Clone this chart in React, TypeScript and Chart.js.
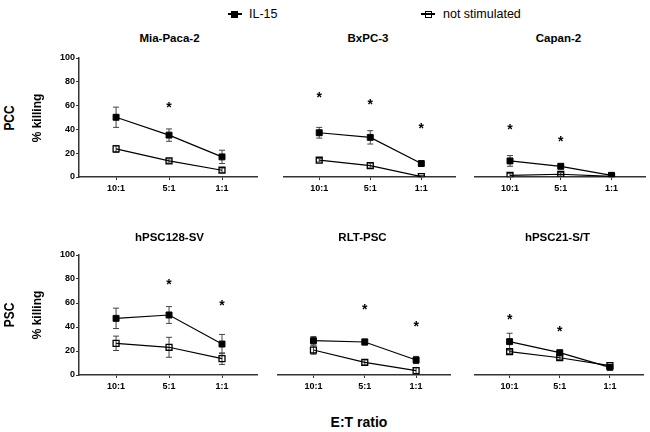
import React, { useEffect, useRef } from "react";
import { Chart, registerables } from "chart.js";

Chart.register(...registerables);

const FONT = '"Liberation Sans", Arial, Helvetica, sans-serif';

// ---- data ----
const ratioLabels = ["10:1", "5:1", "1:1"];
const ratioPositions = [1, 2, 3];
const yTickStep = 20;
const seriesNames = ["IL-15", "not stimulated"];
const panelTitles = ["Mia-Paca-2", "BxPC-3", "Capan-2", "hPSC128-SV", "RLT-PSC", "hPSC21-S/T"];
const rowLabels = ["PCC", "PSC"];
const yAxisTitle = "% killing";
const xAxisTitle = "E:T ratio";

const il15Mean = [
  [50.2, 35.2, 16.9],
  [37.2, 33.3, 11.3],
  [13.5, 9.0, 1.4],
  [47.2, 50.0, 25.8],
  [28.6, 27.5, 12.5],
  [27.8, 18.6, 6.4],
];
const il15Err = [
  [8.5, 5.2, 5.6],
  [4.5, 5.6, 1.5],
  [4.5, 1.5, 1.0],
  [8.5, 7.0, 8.0],
  [3.5, 2.5, 3.0],
  [7.0, 1.5, 1.0],
];
const unstimMean = [
  [23.6, 13.5, 5.7],
  [14.1, 9.6, 0.3],
  [1.4, 2.3, 0.5],
  [26.4, 23.1, 13.6],
  [20.8, 10.5, 3.6],
  [19.4, 14.4, 7.8],
];
const unstimErr = [
  [2.9, 1.8, 1.8],
  [1.5, 2.0, 1.0],
  [1.5, 1.5, 0.8],
  [6.0, 8.3, 4.8],
  [3.5, 2.0, 2.5],
  [1.5, 1.5, 1.0],
];
// y position (in % killing units) of significance asterisks, null = none
const starLevels = [
  [null, 60.6, null],
  [69.0, 63.3, 42.8],
  [41.7, 31.6, null],
  [null, 77.3, 60.3],
  [null, 56.4, 42.3],
  [48.6, 38.6, null],
];

// ---- layout ----
const panelBoxes = [
  { left: 79, width: 181, top: 58, height: 119, showY: true },
  { left: 278, width: 180, top: 58, height: 119, showY: false },
  { left: 469, width: 179, top: 58, height: 119, showY: false },
  { left: 79, width: 181, top: 255, height: 120, showY: true },
  { left: 272, width: 181, top: 255, height: 120, showY: false },
  { left: 469, width: 177, top: 255, height: 120, showY: false },
];
const Y_AXIS_W = 40;
const PAD_TOP = 12;
const PAD_RIGHT = 3;
const X_AXIS_H = 24;

function Panel({ index }: { index: number }) {
  const ref = useRef<HTMLCanvasElement | null>(null);
  const box = panelBoxes[index];
  const yw = box.showY ? Y_AXIS_W : 0;
  const cw = yw + box.width + PAD_RIGHT;
  const ch = PAD_TOP + box.height + X_AXIS_H;

  useEffect(() => {
    const canvas = ref.current;
    if (!canvas) return;
    const means = [il15Mean[index], unstimMean[index]];
    const errs = [il15Err[index], unstimErr[index]];
    const stars = starLevels[index];

    const errorBarPlugin = {
      id: "errorBars",
      beforeDatasetsDraw(chart: any) {
        const ctx = chart.ctx;
        const ys = chart.scales.y;
        ctx.save();
        ctx.strokeStyle = "#444";
        ctx.lineWidth = 1;
        means.forEach((m, di) => {
          const meta = chart.getDatasetMeta(di);
          meta.data.forEach((pt: any, j: number) => {
            const e = errs[di][j];
            const yt = ys.getPixelForValue(m[j] + e);
            const yb = ys.getPixelForValue(Math.max(0, m[j] - e));
            ctx.beginPath();
            ctx.moveTo(pt.x, yt);
            ctx.lineTo(pt.x, yb);
            ctx.moveTo(pt.x - 3, yt);
            ctx.lineTo(pt.x + 3, yt);
            ctx.moveTo(pt.x - 3, yb);
            ctx.lineTo(pt.x + 3, yb);
            ctx.stroke();
          });
        });
        ctx.restore();
      },
    };

    const starPlugin = {
      id: "stars",
      afterDraw(chart: any) {
        const ctx = chart.ctx;
        const xs = chart.scales.x;
        const ys = chart.scales.y;
        ctx.save();
        ctx.font = `bold 14px ${FONT}`;
        ctx.fillStyle = "#000";
        ctx.textAlign = "center";
        ctx.textBaseline = "alphabetic";
        const m = ctx.measureText("*");
        const asc = m.actualBoundingBoxAscent || 9;
        const desc = m.actualBoundingBoxDescent || -5;
        stars.forEach((s, j) => {
          if (s === null) return;
          const x = xs.getPixelForValue(ratioPositions[j]);
          const yc = ys.getPixelForValue(s);
          ctx.fillText("*", x, yc + (asc - desc) / 2);
        });
        ctx.restore();
      },
    };

    const tickFont = { family: FONT, size: 9, weight: "bold" as const };

    const chart = new Chart(canvas, {
      type: "line",
      data: {
        datasets: [
          {
            label: seriesNames[0],
            data: means[0].map((v, i) => ({ x: ratioPositions[i], y: v })),
            borderColor: "#000",
            backgroundColor: "#000",
            borderWidth: 1.2,
            pointStyle: "rect",
            pointRadius: 4.2,
            pointBorderWidth: 1,
            pointBackgroundColor: "#000",
            pointBorderColor: "#000",
          },
          {
            label: seriesNames[1],
            data: means[1].map((v, i) => ({ x: ratioPositions[i], y: v })),
            borderColor: "#000",
            backgroundColor: "rgba(0,0,0,0)",
            borderWidth: 1.2,
            pointStyle: "rect",
            pointRadius: 4.2,
            pointBorderWidth: 1.3,
            pointBackgroundColor: "rgba(0,0,0,0)",
            pointBorderColor: "#000",
          },
        ],
      },
      options: {
        responsive: false,
        maintainAspectRatio: false,
        animation: false,
        events: [],
        layout: { padding: { left: 0, right: PAD_RIGHT, top: PAD_TOP, bottom: 0 } },
        plugins: {
          legend: { display: false },
          tooltip: { enabled: false },
          title: { display: false },
        },
        scales: {
          x: {
            type: "linear",
            min: 0.3,
            max: 3.67,
            afterBuildTicks: (s: any) => {
              s.ticks = ratioPositions.map((v) => ({ value: v }));
            },
            afterFit: (s: any) => {
              s.height = X_AXIS_H;
            },
            ticks: {
              callback: (v: any) => ratioLabels[ratioPositions.indexOf(Number(v))],
              font: tickFont,
              color: "#000",
              padding: 3,
              autoSkip: false,
              maxRotation: 0,
            },
            grid: { display: true, drawOnChartArea: false, drawTicks: true, tickLength: 3, color: "#333", lineWidth: 1 },
            border: { display: true, color: "#333", width: 1.5 },
          },
          y: {
            display: box.showY,
            min: 0,
            max: 100,
            afterFit: (s: any) => {
              s.width = yw;
            },
            ticks: { stepSize: yTickStep, font: tickFont, color: "#000", padding: 1 },
            grid: { display: true, drawOnChartArea: false, drawTicks: true, tickLength: 3, color: "#333", lineWidth: 1 },
            border: { display: true, color: "#333", width: 1.5 },
          },
        },
      } as any,
      plugins: [errorBarPlugin, starPlugin],
    });
    return () => chart.destroy();
  }, [index]);

  return (
    <canvas
      ref={ref}
      width={cw}
      height={ch}
      style={{
        position: "absolute",
        left: box.left - yw,
        top: box.top - PAD_TOP,
        width: cw,
        height: ch,
      }}
    />
  );
}

const textBase: React.CSSProperties = {
  position: "absolute",
  fontFamily: FONT,
  color: "#000",
  whiteSpace: "nowrap",
  lineHeight: 1,
};

function Centered({ x, y, text, size, bold, rotate, scale }: { x: number; y: number; text: string; size: number; bold?: boolean; rotate?: boolean; scale?: number }) {
  const tf = `translate(-50%, -50%)${rotate ? " rotate(-90deg)" : ""}${scale ? ` scaleX(${scale})` : ""}`;
  return (
    <div style={{ ...textBase, left: x, top: y, fontSize: size, fontWeight: bold ? "bold" : "normal", transform: tf }}>
      {text}
    </div>
  );
}

function LegendMarker({ x, y, filled }: { x: number; y: number; filled: boolean }) {
  return (
    <>
      <div style={{ position: "absolute", left: x - 7, top: y - 0.6, width: 14, height: 1.2, background: "#000" }} />
      <div
        style={{
          position: "absolute",
          left: x - 3.5,
          top: y - 3.5,
          width: 7,
          height: 7,
          boxSizing: "border-box",
          border: "1.3px solid #000",
          background: filled ? "#000" : "transparent",
        }}
      />
    </>
  );
}

export default function App() {
  useEffect(() => {
    document.body.style.margin = "0";
  }, []);
  const legendY = 14;
  return (
    <div style={{ position: "fixed", left: 0, top: 0, width: 650, height: 432, background: "#fff", overflow: "hidden" }}>
      {panelBoxes.map((_, i) => (
        <Panel key={i} index={i} />
      ))}
      {panelBoxes.map((b, i) => (
        <Centered key={"t" + i} x={b.left + b.width / 2} y={i < 3 ? 39 : 237.5} text={panelTitles[i]} size={11.5} bold />
      ))}
      <Centered x={9} y={117.5} text={rowLabels[0]} size={14} bold rotate scale={0.85} />
      <Centered x={37} y={118} text={yAxisTitle} size={12} bold rotate />
      <Centered x={9} y={315} text={rowLabels[1]} size={14} bold rotate scale={0.85} />
      <Centered x={37} y={315} text={yAxisTitle} size={12} bold rotate />
      <Centered x={359} y={422} text={xAxisTitle} size={14} bold />
      <LegendMarker x={234.5} y={legendY} filled />
      <div style={{ ...textBase, left: 249, top: legendY - 6.5, fontSize: 12.5 }}>{seriesNames[0]}</div>
      <LegendMarker x={428} y={legendY} filled={false} />
      <div style={{ ...textBase, left: 443, top: legendY - 6.5, fontSize: 12.5 }}>{seriesNames[1]}</div>
    </div>
  );
}
